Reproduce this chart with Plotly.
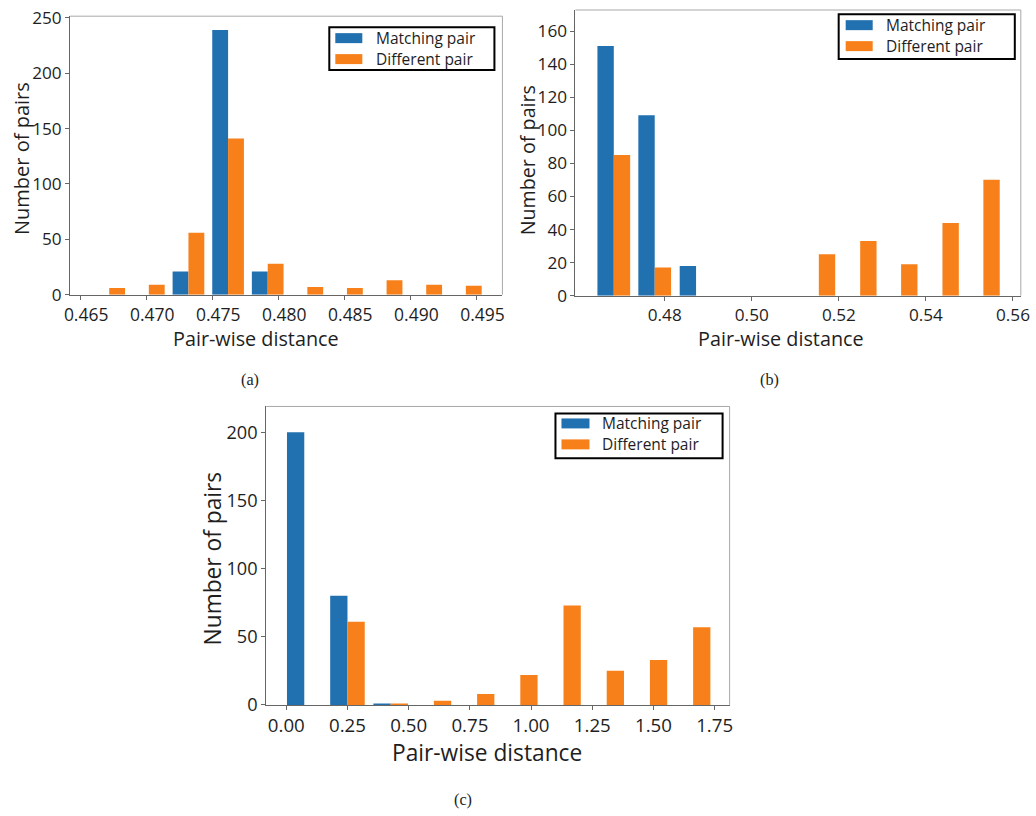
import plotly.graph_objects as go

# ---------------- data ----------------
series_names = ["Matching pair", "Different pair"]

# panel (a)
a_centers = [0.4672, 0.4702, 0.4732, 0.4762, 0.4792, 0.4822, 0.4852, 0.4882, 0.4912, 0.4942]
a_matching = [0, 0, 21, 239, 21, 0, 0, 0, 0, 0]
a_different = [6, 9, 56, 141, 28, 7, 6, 13, 9, 8]
a_xticks = [0.465, 0.470, 0.475, 0.480, 0.485, 0.490, 0.495]
a_xticklabels = ["0.465", "0.470", "0.475", "0.480", "0.485", "0.490", "0.495"]
a_yticks = [0, 50, 100, 150, 200, 250]

# panel (b)
b_centers = [0.4683, 0.4777, 0.4872, 0.4966, 0.5060, 0.5154, 0.5249, 0.5343, 0.5438, 0.5532]
b_matching = [151, 109, 18, 0, 0, 0, 0, 0, 0, 0]
b_different = [85, 17, 0, 0, 0, 25, 33, 19, 44, 70]
b_xticks = [0.48, 0.50, 0.52, 0.54, 0.56]
b_xticklabels = ["0.48", "0.50", "0.52", "0.54", "0.56"]
b_yticks = [0, 20, 40, 60, 80, 100, 120, 140, 160]

# panel (c)
c_centers = [0.0735, 0.25, 0.4265, 0.603, 0.7795, 0.956, 1.1325, 1.309, 1.4855, 1.662]
c_matching = [200, 80, 1, 0, 0, 0, 0, 0, 0, 0]
c_different = [0, 61, 1, 3, 8, 22, 73, 25, 33, 57]
c_xticks = [0.0, 0.25, 0.5, 0.75, 1.0, 1.25, 1.5, 1.75]
c_xticklabels = ["0.00", "0.25", "0.50", "0.75", "1.00", "1.25", "1.50", "1.75"]
c_yticks = [0, 50, 100, 150, 200]

panel_labels = ["(a)", "(b)", "(c)"]
x_title = "Pair-wise distance"
y_title = "Number of pairs"

# ---------------- style ----------------
BLUE = "#2170b0"
ORANGE = "#f8801a"
FONT = "Open Sans"
AXIS_COLOR = "#666666"
TEXT_COLOR = "#1e1e1e"
W, H = 1036, 816
colors = [BLUE, ORANGE]

# positions below are given in picture pixels; converted to figure pixels here
SX = W / (W + 16)
SY = H / (H + 16)
FS = 0.99


def fx(X):
    return X / SX - 4


def fy(Y):
    return Y / SY - (4 + 4 * (1 - Y / H))


def px_x(X):
    return min(1.0, max(0.0, fx(X) / W))


def px_y(Y):
    return min(1.0, max(0.0, 1 - fy(Y) / H))


def fsz(s):
    return s / FS


fig = go.Figure()
panels = [
    (a_centers, a_matching, a_different, "x", "y"),
    (b_centers, b_matching, b_different, "x2", "y2"),
    (c_centers, c_matching, c_different, "x3", "y3"),
]
for centers, m, d, xa, ya in panels:
    for vals, name, col in zip([m, d], series_names, colors):
        fig.add_trace(go.Bar(x=centers, y=vals, name=name, showlegend=False,
                             marker=dict(color=col, line=dict(width=0)), xaxis=xa, yaxis=ya))


def axis_common(tickfont_size):
    return dict(showline=True, linecolor=AXIS_COLOR, linewidth=1, ticks="outside", ticklen=4,
                tickcolor=AXIS_COLOR, tickwidth=1, showgrid=False, zeroline=False,
                ticklabeloverflow="allow",
                tickfont=dict(family=FONT, size=fsz(tickfont_size), color=TEXT_COLOR))


layout = dict(
    width=W, height=H, margin=dict(l=0, r=0, t=0, b=0, pad=0), autosize=False,
    paper_bgcolor="white", plot_bgcolor="white",
    barmode="group", bargap=0.2, bargroupgap=0.0,
    font=dict(family=FONT, color=TEXT_COLOR), showlegend=False,
)
# panel (a): plot area 68..500 x 14..293 (picture px)
layout["xaxis"] = dict(domain=[px_x(68), px_x(500)], range=[0.46424, 0.49697], anchor="y",
                       tickvals=a_xticks, ticktext=a_xticklabels, ticklabelshift=6, **axis_common(17.3))
layout["yaxis"] = dict(domain=[px_y(293), px_y(14)], range=[0, 251.5], anchor="x",
                       tickvals=a_yticks, **axis_common(17))
# panel (b): plot area 573..1018 x 7.8..294
layout["xaxis2"] = dict(domain=[px_x(573), px_x(1018)], range=[0.4595, 0.5618], anchor="y2",
                        tickvals=b_xticks, ticktext=b_xticklabels, **axis_common(17))
layout["yaxis2"] = dict(domain=[px_y(294), px_y(7.8)], range=[0, 172.7], anchor="x2",
                        tickvals=b_yticks, **axis_common(17))
# panel (c): plot area 264..727 x 405..704
layout["xaxis3"] = dict(domain=[px_x(264), px_x(727)], range=[-0.0818, 1.811], anchor="y3",
                        tickvals=c_xticks, ticktext=c_xticklabels, **axis_common(18.5))
layout["yaxis3"] = dict(domain=[px_y(704), px_y(405)], range=[0, 219], anchor="x3",
                        tickvals=c_yticks, **axis_common(18))
fig.update_layout(**layout)

# light top/right spines
for xa, ya in [("x", "y"), ("x2", "y2"), ("x3", "y3")]:
    fig.add_shape(type="line", xref=f"{xa} domain", yref=f"{ya} domain", x0=0, x1=1, y0=1, y1=1,
                  line=dict(color="#a8a8a8", width=1))
    fig.add_shape(type="line", xref=f"{xa} domain", yref=f"{ya} domain", x0=1, x1=1, y0=0, y1=1,
                  line=dict(color="#a8a8a8", width=1))

# legends: box, swatches and texts (picture px)
legend_specs = [
    # left, top, right, bottom, row1_y, row2_y, swatch_offset, swatch_w, text_offset
    (327, 25, 492, 68, 36, 57, 6, 27, 45),
    (836, 12, 1012, 57, 23, 44, 7, 27, 45),
    (553, 412, 720, 457, 422, 443, 6, 28, 44),
]
for l, t, r, b, r1, r2, so, sw, to in legend_specs:
    fig.add_shape(type="rect", xref="paper", yref="paper", x0=px_x(l), x1=px_x(r), y0=px_y(b), y1=px_y(t),
                  line=dict(color="black", width=2), fillcolor="white", layer="above")
    for ry, name, col in zip([r1, r2], series_names, colors):
        fig.add_shape(type="rect", xref="paper", yref="paper", x0=px_x(l + so), x1=px_x(l + so + sw),
                      y0=px_y(ry + 5), y1=px_y(ry - 5), line=dict(width=0), fillcolor=col, layer="above")
        fig.add_annotation(x=px_x(l + to), y=px_y(ry), xref="paper", yref="paper", text=name,
                           showarrow=False, xanchor="left", yanchor="middle",
                           font=dict(family=FONT, size=15.5, color=TEXT_COLOR))

# axis titles (picture px)
titles = [
    (254, 337, x_title, 0, 19.6),
    (20, 157, y_title, -90, 19.8),
    (778, 337, x_title, 0, 19.6),
    (525, 158, y_title, -90, 19.5),
    (485, 752, x_title, 0, 22.5),
    (210, 557, y_title, -90, 22.5),
]
for x, y, t, ang, sz in titles:
    fig.add_annotation(x=px_x(x), y=px_y(y), xref="paper", yref="paper", text=t, showarrow=False,
                       textangle=ang, xanchor="center", yanchor="middle",
                       font=dict(family=FONT, size=fsz(sz), color=TEXT_COLOR))

# sub-figure captions
for (x, y), t in zip([(248, 378), (767, 378), (461, 799)], panel_labels):
    fig.add_annotation(x=px_x(x), y=px_y(y), xref="paper", yref="paper", text=t, showarrow=False,
                       xanchor="center", yanchor="middle",
                       font=dict(family="Liberation Serif", size=fsz(16), color=TEXT_COLOR))

fig.write_html("out.html")
